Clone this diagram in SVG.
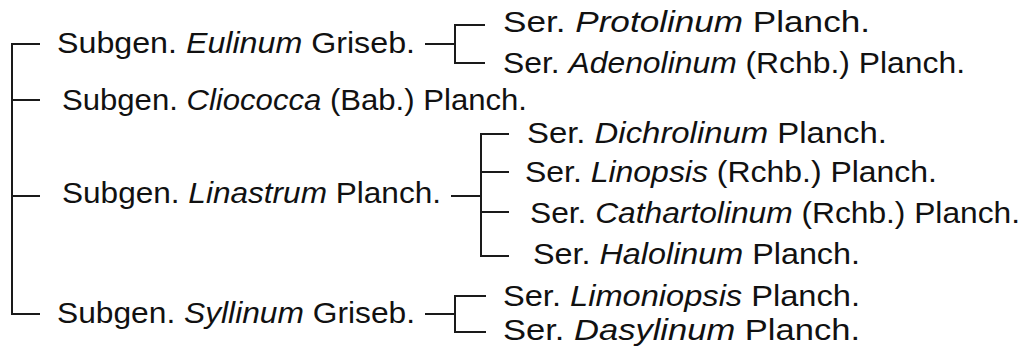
<svg xmlns="http://www.w3.org/2000/svg" width="1030" height="351" viewBox="0 0 1030 351">
  <style>
    .lbl { font-family: "Liberation Sans", Arial, sans-serif; font-size: 29px; fill: #111; }
    .it { font-style: italic; }
    .br { fill: none; stroke: #1a1a1a; stroke-width: 2; stroke-linecap: butt; }
  </style>
  <rect width="1030" height="351" fill="#ffffff"/>

  <!-- bracket connectors -->
  <g id="connectors">
    <!-- genus level: four subgenera -->
    <path class="br" d="M40 44 H12 V314 H40 M12 100 H40 M12 196 H40"/>
    <!-- Eulinum: two series -->
    <path class="br" d="M425 44 H455 M485 25 H455 V63 H485"/>
    <!-- Linastrum: four series -->
    <path class="br" d="M451 196 H481 M509 134 H481 V256 H509 M481 172 H509 M481 212 H509"/>
    <!-- Syllinum: two series -->
    <path class="br" d="M425 314 H455 M486 296 H455 V332 H486"/>
  </g>

  <!-- subgenera -->
  <g id="subgen-eulinum">
    <text class="lbl" x="57" y="53" textLength="358" lengthAdjust="spacingAndGlyphs">Subgen. <tspan class="it">Eulinum</tspan> Griseb.</text>
  </g>
  <g id="subgen-cliococca">
    <text class="lbl" x="62" y="110" textLength="465" lengthAdjust="spacingAndGlyphs">Subgen. <tspan class="it">Cliococca</tspan> (Bab.) Planch.</text>
  </g>
  <g id="subgen-linastrum">
    <text class="lbl" x="62" y="203" textLength="379" lengthAdjust="spacingAndGlyphs">Subgen. <tspan class="it">Linastrum</tspan> Planch.</text>
  </g>
  <g id="subgen-syllinum">
    <text class="lbl" x="57" y="323" textLength="358" lengthAdjust="spacingAndGlyphs">Subgen. <tspan class="it">Syllinum</tspan> Griseb.</text>
  </g>

  <!-- series -->
  <g id="ser-protolinum">
    <text class="lbl" x="503" y="32" textLength="367" lengthAdjust="spacingAndGlyphs">Ser. <tspan class="it">Protolinum</tspan> Planch.</text>
  </g>
  <g id="ser-adenolinum">
    <text class="lbl" x="503" y="73" textLength="462" lengthAdjust="spacingAndGlyphs">Ser. <tspan class="it">Adenolinum</tspan> (Rchb.) Planch.</text>
  </g>
  <g id="ser-dichrolinum">
    <text class="lbl" x="527" y="143" textLength="360" lengthAdjust="spacingAndGlyphs">Ser. <tspan class="it">Dichrolinum</tspan> Planch.</text>
  </g>
  <g id="ser-linopsis">
    <text class="lbl" x="525" y="182" textLength="412" lengthAdjust="spacingAndGlyphs">Ser. <tspan class="it">Linopsis</tspan> (Rchb.) Planch.</text>
  </g>
  <g id="ser-cathartolinum">
    <text class="lbl" x="530" y="223" textLength="490" lengthAdjust="spacingAndGlyphs">Ser. <tspan class="it">Cathartolinum</tspan> (Rchb.) Planch.</text>
  </g>
  <g id="ser-halolinum">
    <text class="lbl" x="533" y="264" textLength="327" lengthAdjust="spacingAndGlyphs">Ser. <tspan class="it">Halolinum</tspan> Planch.</text>
  </g>
  <g id="ser-limoniopsis">
    <text class="lbl" x="503" y="306" textLength="357" lengthAdjust="spacingAndGlyphs">Ser. <tspan class="it">Limoniopsis</tspan> Planch.</text>
  </g>
  <g id="ser-dasylinum">
    <text class="lbl" x="503" y="340" textLength="357" lengthAdjust="spacingAndGlyphs">Ser. <tspan class="it">Dasylinum</tspan> Planch.</text>
  </g>
</svg>
